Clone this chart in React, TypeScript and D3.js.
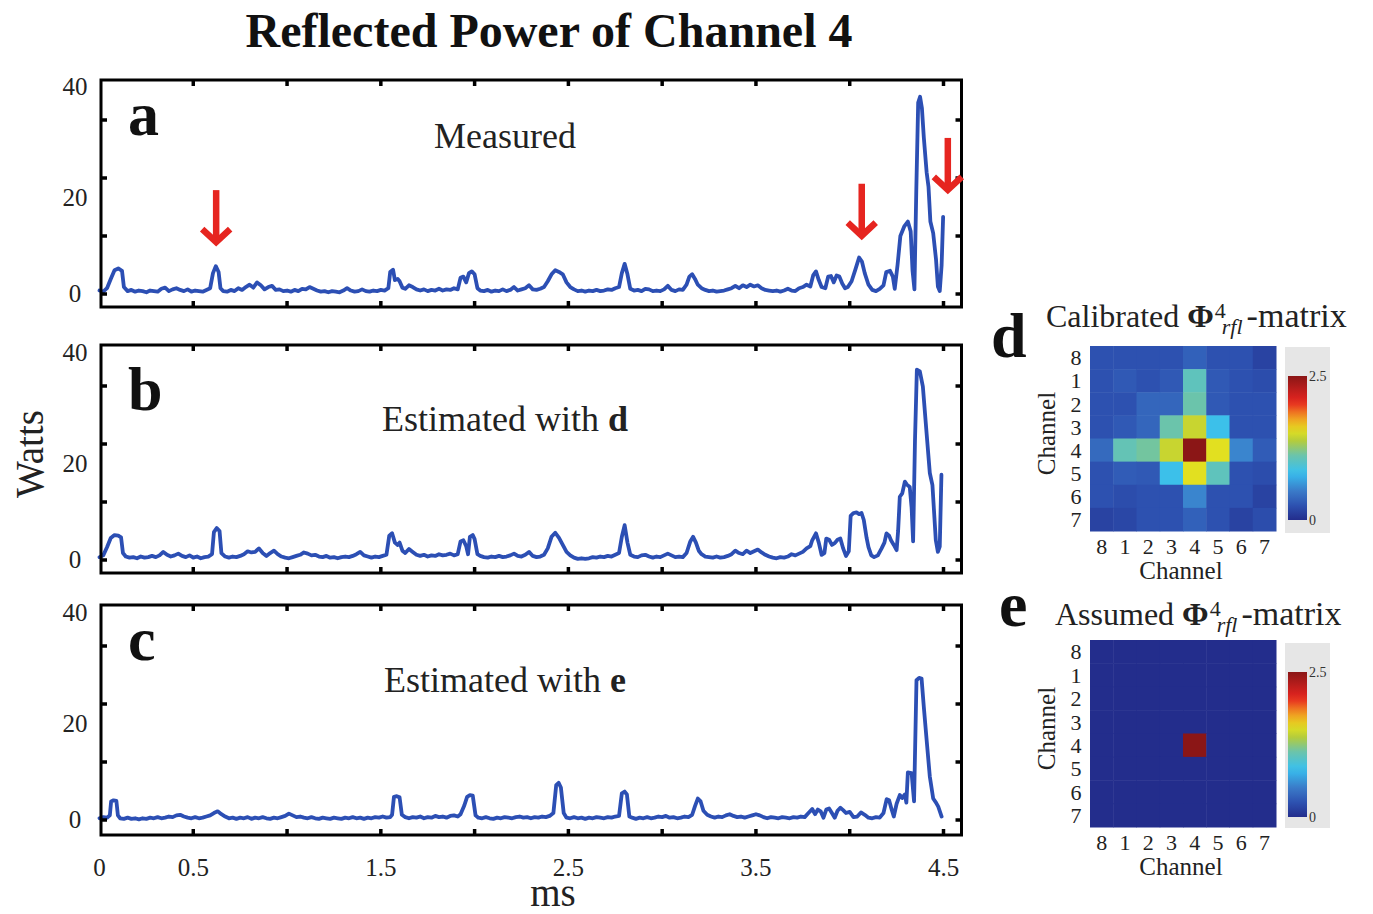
import React from 'react';
import * as d3 from 'd3';

const WIDTH = 1373;
const HEIGHT = 914;
const FONT = "'Liberation Serif', 'Times New Roman', Times, serif";
const LINE_COLOR = '#2c4fb4';
const ARROW_COLOR = '#e62520';

// ---- axes ----
const TIME_TICKS = [0.5, 1, 1.5, 2, 2.5, 3, 3.5, 4, 4.5];
const TIME_LABELS = [0, 0.5, 1.5, 2.5, 3.5, 4.5];
const WATT_TICKS = [0, 10, 20, 30];
const WATT_LABELS = [0, 20, 40];

// ---- reflected power traces, [ms, W] ----
const measured: [number, number][] = [
  [0.00,0.6],[0.02,0.4],[0.04,1.0],[0.06,2.6],[0.08,4.1],[0.10,4.4],[0.12,4.0],[0.13,1.2],[0.15,0.5],[0.17,0.7],
  [0.19,0.4],[0.21,0.6],[0.23,0.5],[0.25,0.3],[0.27,0.6],[0.29,0.5],[0.31,0.4],[0.33,0.9],[0.35,1.1],[0.37,0.5],
  [0.39,0.8],[0.41,1.0],[0.43,0.7],[0.45,0.5],[0.47,0.8],[0.49,0.4],[0.51,0.6],[0.53,0.5],[0.55,0.4],[0.57,0.7],
  [0.59,1.0],[0.605,3.6],[0.62,4.8],[0.635,3.8],[0.645,1.0],[0.66,0.5],[0.68,0.4],[0.70,0.7],[0.72,0.5],[0.74,1.0],
  [0.76,0.7],[0.78,1.2],[0.80,1.6],[0.82,1.1],[0.84,2.0],[0.86,1.5],[0.88,0.8],[0.90,1.2],[0.92,1.4],[0.94,0.7],
  [0.96,0.8],[0.98,0.5],[1.00,0.6],[1.02,0.4],[1.04,0.7],[1.06,0.5],[1.08,0.9],[1.10,0.8],[1.12,1.2],[1.14,0.9],
  [1.16,0.6],[1.18,0.4],[1.20,0.5],[1.22,0.3],[1.24,0.5],[1.26,0.4],[1.28,0.3],[1.30,0.6],[1.32,1.0],[1.34,0.6],
  [1.36,0.4],[1.38,0.5],[1.40,0.8],[1.42,0.5],[1.44,0.4],[1.46,0.6],[1.48,0.5],[1.50,0.7],[1.52,0.6],[1.54,1.0],
  [1.55,3.8],[1.565,4.2],[1.575,2.4],[1.59,2.6],[1.60,2.2],[1.615,1.1],[1.63,0.9],[1.65,1.5],[1.67,1.2],[1.69,0.8],
  [1.71,0.6],[1.73,0.8],[1.75,0.5],[1.77,0.7],[1.79,0.6],[1.81,0.9],[1.83,0.6],[1.85,0.8],[1.87,0.7],[1.89,1.0],
  [1.91,0.8],[1.925,2.8],[1.94,3.0],[1.955,2.0],[1.97,3.6],[1.985,3.9],[2.00,3.4],[2.015,1.0],[2.03,0.6],[2.05,0.5],
  [2.07,0.7],[2.09,0.4],[2.11,0.6],[2.13,0.5],[2.15,0.8],[2.17,0.5],[2.19,0.7],[2.21,1.2],[2.23,0.6],[2.25,0.8],
  [2.27,1.0],[2.29,1.5],[2.31,0.8],[2.33,0.7],[2.35,0.9],[2.37,1.2],[2.39,2.2],[2.41,3.4],[2.43,4.1],[2.45,3.8],
  [2.47,3.4],[2.49,2.0],[2.51,1.2],[2.53,0.8],[2.55,0.5],[2.57,0.6],[2.59,0.4],[2.61,0.6],[2.63,0.5],[2.65,0.7],
  [2.67,0.5],[2.69,0.6],[2.71,0.8],[2.73,0.7],[2.75,1.0],[2.77,1.2],[2.785,3.6],[2.80,5.2],[2.815,3.4],[2.83,0.9],
  [2.85,0.6],[2.87,0.7],[2.89,0.5],[2.91,0.9],[2.93,0.8],[2.95,0.5],[2.97,0.6],[2.99,0.5],[3.01,0.8],[3.03,1.4],
  [3.05,0.7],[3.07,0.5],[3.09,0.8],[3.11,0.7],[3.13,1.6],[3.145,3.0],[3.16,3.4],[3.175,2.6],[3.19,1.6],[3.21,1.0],
  [3.23,0.7],[3.25,0.5],[3.27,0.6],[3.29,0.4],[3.31,0.5],[3.33,0.6],[3.35,0.8],[3.37,1.0],[3.39,1.4],[3.41,1.0],
  [3.43,1.5],[3.45,1.2],[3.47,1.6],[3.49,1.3],[3.51,1.5],[3.53,1.0],[3.55,0.7],[3.57,0.6],[3.59,0.5],[3.61,0.6],
  [3.63,0.4],[3.65,0.6],[3.67,0.9],[3.69,0.6],[3.71,0.5],[3.73,1.0],[3.75,1.2],[3.77,1.6],[3.79,1.3],[3.805,3.2],
  [3.82,3.9],[3.835,2.4],[3.85,1.2],[3.87,1.0],[3.885,3.0],[3.90,3.1],[3.915,2.0],[3.93,3.2],[3.945,3.0],[3.96,1.8],
  [3.975,1.0],[3.99,1.2],[4.01,2.2],[4.03,4.2],[4.05,6.3],[4.065,5.6],[4.08,3.6],[4.10,1.6],[4.12,0.7],[4.14,0.5],
  [4.16,0.9],[4.18,1.5],[4.195,3.8],[4.215,4.0],[4.23,3.0],[4.24,0.9],[4.255,5.0],[4.27,10.0],[4.29,11.6],[4.31,12.5],
  [4.325,10.8],[4.335,4.0],[4.345,0.8],[4.355,18.0],[4.365,33.0],[4.375,34.0],[4.385,32.0],[4.395,27.0],[4.41,21.0],[4.42,18.5],
  [4.43,12.5],[4.445,10.5],[4.46,6.0],[4.47,1.3],[4.48,0.5],[4.49,5.0],[4.498,13.3],
];

const estimatedD: [number, number][] = [
  [0.00,0.5],[0.02,0.8],[0.04,2.2],[0.06,3.8],[0.08,4.3],[0.10,4.2],[0.115,3.9],[0.125,1.2],[0.14,0.6],[0.16,0.4],
  [0.18,0.5],[0.20,0.3],[0.22,0.6],[0.24,0.4],[0.26,0.5],[0.28,0.7],[0.30,0.5],[0.32,0.8],[0.34,1.4],[0.36,0.9],
  [0.38,0.6],[0.40,0.8],[0.42,1.1],[0.44,0.7],[0.46,0.5],[0.48,0.8],[0.50,0.4],[0.52,0.6],[0.54,0.3],[0.56,0.5],
  [0.58,0.6],[0.60,1.0],[0.61,4.8],[0.625,5.5],[0.64,5.0],[0.65,1.2],[0.67,0.6],[0.69,0.4],[0.71,0.6],[0.73,0.5],
  [0.75,0.7],[0.77,1.0],[0.79,1.5],[0.81,1.3],[0.83,1.4],[0.85,2.0],[0.87,1.2],[0.89,0.7],[0.91,1.2],[0.93,1.6],
  [0.95,1.0],[0.97,0.6],[0.99,0.4],[1.01,0.3],[1.03,0.5],[1.05,0.7],[1.07,0.9],[1.09,1.3],[1.11,1.1],[1.13,0.8],
  [1.15,0.9],[1.17,0.6],[1.19,0.5],[1.21,0.7],[1.23,0.4],[1.25,0.5],[1.27,0.3],[1.29,0.5],[1.31,0.6],[1.33,0.5],
  [1.35,0.7],[1.37,1.0],[1.39,1.4],[1.41,0.8],[1.43,0.6],[1.45,0.4],[1.47,0.6],[1.49,0.5],[1.51,0.7],[1.53,0.9],
  [1.545,4.2],[1.56,4.6],[1.575,3.0],[1.59,2.6],[1.60,3.0],[1.615,1.6],[1.63,1.2],[1.65,1.9],[1.67,1.4],[1.69,0.9],
  [1.71,0.7],[1.73,0.9],[1.75,0.6],[1.77,0.8],[1.79,0.7],[1.81,1.0],[1.83,0.8],[1.85,0.9],[1.87,1.1],[1.89,0.8],
  [1.91,1.0],[1.925,3.2],[1.94,3.4],[1.955,2.4],[1.965,1.0],[1.975,4.0],[1.99,4.3],[2.00,3.6],[2.015,1.0],[2.03,0.7],
  [2.05,0.5],[2.07,0.4],[2.09,0.6],[2.11,0.5],[2.13,0.7],[2.15,0.5],[2.17,0.6],[2.19,0.8],[2.21,1.1],[2.23,0.7],
  [2.25,0.6],[2.27,0.9],[2.29,1.4],[2.31,0.7],[2.33,0.5],[2.35,0.6],[2.37,0.9],[2.39,2.0],[2.41,4.0],[2.43,4.7],
  [2.45,3.8],[2.47,2.6],[2.49,1.4],[2.51,0.8],[2.53,0.4],[2.55,0.2],[2.57,0.3],[2.59,0.2],[2.61,0.3],[2.63,0.5],
  [2.65,0.4],[2.67,0.6],[2.69,0.5],[2.71,0.7],[2.73,0.6],[2.75,0.9],[2.77,1.2],[2.785,4.0],[2.80,6.0],[2.815,3.0],
  [2.83,0.9],[2.85,0.6],[2.87,0.5],[2.89,0.8],[2.91,0.9],[2.93,0.6],[2.95,0.4],[2.97,0.6],[2.99,0.5],[3.01,0.8],
  [3.03,1.1],[3.05,0.8],[3.07,0.5],[3.09,0.6],[3.11,0.5],[3.13,1.2],[3.15,3.2],[3.165,4.0],[3.18,3.0],[3.195,1.6],
  [3.21,1.0],[3.23,0.6],[3.25,0.5],[3.27,0.4],[3.29,0.6],[3.31,0.4],[3.33,0.5],[3.35,0.7],[3.37,1.0],[3.39,1.6],
  [3.41,1.2],[3.43,1.0],[3.45,1.6],[3.47,1.2],[3.49,1.5],[3.51,1.8],[3.53,1.3],[3.55,0.9],[3.57,0.6],[3.59,0.4],
  [3.61,0.3],[3.63,0.5],[3.65,0.4],[3.67,0.6],[3.69,1.0],[3.71,0.8],[3.73,1.1],[3.75,1.4],[3.77,2.0],[3.79,2.4],
  [3.80,3.4],[3.82,4.6],[3.835,3.0],[3.85,0.9],[3.865,1.2],[3.875,3.7],[3.89,3.5],[3.905,2.6],[3.92,2.9],[3.935,3.5],
  [3.95,3.7],[3.965,2.0],[3.98,0.7],[3.995,1.5],[4.005,7.6],[4.02,8.1],[4.036,8.2],[4.05,7.9],[4.063,8.1],[4.075,6.9],
  [4.09,3.8],[4.10,2.2],[4.115,0.8],[4.13,0.5],[4.15,0.8],[4.17,2.0],[4.185,3.0],[4.196,4.6],[4.21,4.2],[4.22,3.4],
  [4.235,2.6],[4.25,1.7],[4.258,5.0],[4.267,10.9],[4.28,11.5],[4.294,13.5],[4.305,13.0],[4.32,12.6],[4.33,9.0],[4.338,3.2],
  [4.348,20.7],[4.358,32.8],[4.374,32.5],[4.39,29.9],[4.41,21.8],[4.427,15.0],[4.441,12.9],[4.459,3.4],[4.47,1.4],[4.48,2.3],
  [4.489,14.7],
];

const estimatedE: [number, number][] = [
  [0.00,0.3],[0.02,0.5],[0.04,0.4],[0.055,0.8],[0.062,3.2],[0.075,3.4],[0.09,3.3],[0.098,0.8],[0.11,0.3],[0.13,0.2],
  [0.15,0.4],[0.17,0.2],[0.19,0.3],[0.21,0.1],[0.23,0.3],[0.25,0.2],[0.27,0.4],[0.29,0.3],[0.31,0.5],[0.33,0.3],
  [0.35,0.4],[0.37,0.6],[0.39,0.5],[0.41,0.8],[0.43,0.9],[0.45,0.6],[0.47,0.4],[0.49,0.3],[0.51,0.5],[0.53,0.3],
  [0.55,0.4],[0.57,0.6],[0.59,0.8],[0.61,1.2],[0.63,1.5],[0.65,1.0],[0.67,0.6],[0.69,0.3],[0.71,0.4],[0.73,0.2],
  [0.75,0.4],[0.77,0.3],[0.79,0.5],[0.81,0.2],[0.83,0.4],[0.85,0.3],[0.87,0.5],[0.89,0.3],[0.91,0.2],[0.93,0.4],
  [0.95,0.3],[0.97,0.5],[0.99,0.7],[1.01,1.1],[1.03,0.8],[1.05,0.5],[1.07,0.6],[1.09,0.4],[1.11,0.3],[1.13,0.5],
  [1.15,0.3],[1.17,0.2],[1.19,0.4],[1.21,0.3],[1.23,0.2],[1.25,0.4],[1.27,0.3],[1.29,0.2],[1.31,0.4],[1.33,0.3],
  [1.35,0.5],[1.37,0.3],[1.39,0.4],[1.41,0.2],[1.43,0.4],[1.45,0.3],[1.47,0.5],[1.49,0.4],[1.51,0.6],[1.53,0.4],
  [1.55,0.5],[1.56,0.9],[1.57,4.0],[1.585,4.1],[1.60,3.9],[1.612,0.9],[1.63,0.5],[1.65,0.3],[1.67,0.5],[1.69,0.4],
  [1.71,0.6],[1.73,0.3],[1.75,0.5],[1.77,0.4],[1.79,0.7],[1.81,0.5],[1.83,0.6],[1.85,0.4],[1.87,0.7],[1.89,0.8],
  [1.91,0.6],[1.925,1.0],[1.945,2.5],[1.96,4.0],[1.975,4.3],[1.99,4.2],[2.005,0.8],[2.02,0.4],[2.04,0.3],[2.06,0.5],
  [2.08,0.3],[2.10,0.2],[2.12,0.4],[2.14,0.3],[2.16,0.5],[2.18,0.4],[2.20,0.3],[2.22,0.5],[2.24,0.6],[2.26,0.4],
  [2.28,0.5],[2.30,0.3],[2.32,0.5],[2.34,0.4],[2.36,0.6],[2.38,0.5],[2.40,0.7],[2.42,1.2],[2.435,6.0],[2.448,6.4],
  [2.46,5.6],[2.475,1.2],[2.49,0.4],[2.51,0.3],[2.53,0.5],[2.55,0.3],[2.57,0.4],[2.59,0.2],[2.61,0.4],[2.63,0.3],
  [2.65,0.5],[2.67,0.4],[2.69,0.3],[2.71,0.5],[2.73,0.4],[2.75,0.6],[2.77,0.7],[2.785,4.6],[2.80,4.9],[2.812,4.4],
  [2.825,0.6],[2.84,0.4],[2.86,0.2],[2.88,0.4],[2.90,0.3],[2.92,0.5],[2.94,0.3],[2.96,0.4],[2.98,0.6],[3.00,0.5],
  [3.02,0.7],[3.04,0.4],[3.06,0.5],[3.08,0.3],[3.10,0.4],[3.12,0.6],[3.14,0.5],[3.16,0.9],[3.175,2.4],[3.19,3.7],
  [3.205,3.2],[3.22,1.6],[3.24,0.9],[3.26,0.6],[3.28,0.4],[3.30,0.6],[3.32,0.5],[3.34,0.8],[3.36,1.0],[3.38,0.7],
  [3.40,0.5],[3.42,0.6],[3.44,0.4],[3.46,0.6],[3.48,0.8],[3.50,1.0],[3.52,0.8],[3.54,0.5],[3.56,0.3],[3.58,0.5],
  [3.60,0.4],[3.62,0.3],[3.64,0.5],[3.66,0.4],[3.68,0.3],[3.70,0.5],[3.72,0.4],[3.74,0.6],[3.76,0.5],[3.78,1.2],
  [3.80,1.9],[3.815,1.0],[3.83,1.8],[3.845,1.5],[3.86,0.4],[3.875,1.8],[3.89,2.0],[3.905,1.2],[3.92,0.4],[3.935,1.6],
  [3.95,2.1],[3.965,1.7],[3.98,1.2],[4.00,1.4],[4.02,0.5],[4.04,0.6],[4.06,1.3],[4.08,0.9],[4.10,0.4],[4.12,0.3],
  [4.14,0.5],[4.16,0.4],[4.18,1.2],[4.197,3.6],[4.21,3.4],[4.222,2.0],[4.235,0.6],[4.25,2.8],[4.267,4.3],[4.28,3.8],
  [4.294,4.4],[4.302,3.0],[4.31,8.2],[4.33,8.1],[4.343,3.2],[4.356,24.1],[4.37,24.5],[4.383,24.4],[4.395,19.5],[4.41,13.8],
  [4.427,7.5],[4.445,3.7],[4.46,3.0],[4.472,2.3],[4.49,0.6],
];

// red arrows in the measured trace: [ms, W at arrow tip]
const measuredArrows: [number, number][] = [
  [0.622, 8.6],
  [4.064, 9.7],
  [4.523, 17.6],
];

// ---- reflection matrices (rows and columns in channel order below) ----
const CHANNELS = ['8', '1', '2', '3', '4', '5', '6', '7'];
const COLOR_MAX = 2.5;
const calibratedMatrix = [
  [0.25, 0.25, 0.25, 0.25, 0.35, 0.25, 0.25, 0.15],
  [0.25, 0.30, 0.25, 0.30, 1.05, 0.30, 0.25, 0.22],
  [0.25, 0.25, 0.38, 0.38, 1.12, 0.30, 0.25, 0.25],
  [0.25, 0.30, 0.38, 1.12, 1.45, 0.85, 0.25, 0.25],
  [0.40, 1.08, 1.15, 1.45, 2.50, 1.55, 0.55, 0.32],
  [0.25, 0.32, 0.30, 0.85, 1.55, 1.05, 0.25, 0.22],
  [0.25, 0.22, 0.25, 0.25, 0.55, 0.25, 0.25, 0.15],
  [0.15, 0.18, 0.25, 0.25, 0.35, 0.25, 0.15, 0.22],
];
const assumedMatrix = [
  [0, 0, 0, 0, 0, 0, 0, 0],
  [0, 0, 0, 0, 0, 0, 0, 0],
  [0, 0, 0, 0, 0, 0, 0, 0],
  [0, 0, 0, 0, 0, 0, 0, 0],
  [0, 0, 0, 0, 2.5, 0, 0, 0],
  [0, 0, 0, 0, 0, 0, 0, 0],
  [0, 0, 0, 0, 0, 0, 0, 0],
  [0, 0, 0, 0, 0, 0, 0, 0],
];

// jet-like colour map (slightly muted)
const COLOR_STOPS = [0, 0.1, 0.2, 0.33, 0.45, 0.55, 0.62, 0.72, 0.82, 1];
const COLOR_RANGE = ['#232d8c', '#2d51b0', '#3a7ac8', '#38c0f0', '#6cc4aa', '#b4cc3c', '#e2e020', '#f29422', '#e62420', '#8b1616'];
const colorScale = d3
  .scaleLinear<string>()
  .domain(COLOR_STOPS.map((f) => f * COLOR_MAX))
  .range(COLOR_RANGE)
  .interpolate(d3.interpolateRgb)
  .clamp(true);

// ---- layout ----
const X_LEFT = 101;
const X_RIGHT = 961.5;
const xScale = d3.scaleLinear().domain([0, 4.5]).range([99.5, 943.5]);

type Panel = {
  letter: string;
  text: string;
  bold: string;
  series: [number, number][];
  top: number;
  bottom: number;
  zero: number;
  textY: number;
  letterY: number;
  arrows: [number, number][];
};

const panels: Panel[] = [
  { letter: 'a', text: 'Measured', bold: '', series: measured, top: 80, bottom: 307, zero: 294, textY: 148, letterY: 135, arrows: measuredArrows },
  { letter: 'b', text: 'Estimated with ', bold: 'd', series: estimatedD, top: 345, bottom: 573, zero: 560, textY: 431, letterY: 410, arrows: [] },
  { letter: 'c', text: 'Estimated with ', bold: 'e', series: estimatedE, top: 605, bottom: 835, zero: 820, textY: 692, letterY: 660, arrows: [] },
];

function TracePanel({ p }: { p: Panel }) {
  const y = d3.scaleLinear().domain([0, 10]).range([p.zero, p.zero - 58]);
  const labelY = d3.scaleLinear().domain([0, 20, 40]).range([p.zero - 1, p.zero - 97, p.zero - 208]);
  const line = d3
    .line<[number, number]>()
    .x((d) => xScale(d[0]))
    .y((d) => y(d[1]));
  const tickLen = 6;
  return (
    <g>
      <path d={line(p.series) || ''} fill="none" stroke={LINE_COLOR} strokeWidth={3.8} strokeLinejoin="round" strokeLinecap="round" />
      <rect x={X_LEFT} y={p.top} width={X_RIGHT - X_LEFT} height={p.bottom - p.top} fill="none" stroke="#000" strokeWidth={3} />
      {TIME_TICKS.map((t) => (
        <g key={'t' + t} stroke="#000" strokeWidth={3.5}>
          <line x1={xScale(t)} x2={xScale(t)} y1={p.top} y2={p.top + tickLen} />
          <line x1={xScale(t)} x2={xScale(t)} y1={p.bottom} y2={p.bottom - tickLen} />
        </g>
      ))}
      {WATT_TICKS.map((w) => (
        <g key={'w' + w} stroke="#000" strokeWidth={3.5}>
          <line x1={X_LEFT} x2={X_LEFT + tickLen} y1={y(w)} y2={y(w)} />
          <line x1={X_RIGHT} x2={X_RIGHT - tickLen} y1={y(w)} y2={y(w)} />
        </g>
      ))}
      {WATT_LABELS.map((w) => (
        <text key={'l' + w} x={75} y={labelY(w)} dy="0.35em" textAnchor="middle" fontSize={25} fill="#222">
          {w}
        </text>
      ))}
      <text x={128} y={p.letterY} fontSize={62} fontWeight="bold" fill="#111">
        {p.letter}
      </text>
      <text x={505} y={p.textY} textAnchor="middle" fontSize={36} fill="#222">
        {p.text}
        {p.bold && <tspan fontWeight="bold">{p.bold}</tspan>}
      </text>
      {p.arrows.map(([t, w], i) => {
        const ax = xScale(t);
        const ay = y(w);
        return (
          <g key={'a' + i} stroke={ARROW_COLOR} strokeWidth={6.5} fill="none">
            <line x1={ax} x2={ax} y1={ay - 54} y2={ay - 5} />
            <polyline points={`${ax - 14},${ay - 15} ${ax},${ay - 2} ${ax + 14},${ay - 15}`} strokeLinejoin="miter" />
          </g>
        );
      })}
    </g>
  );
}

type MatrixPanel = {
  letter: string;
  title: string;
  matrix: number[][];
  top: number;
  height: number;
  titleY: number;
  letterX: number;
  letterY: number;
  titleX: number;
  barTop: number;
  barBottom: number;
  bgTop: number;
  bgBottom: number;
};

const matrixPanels: MatrixPanel[] = [
  { letter: 'd', title: 'Calibrated ', matrix: calibratedMatrix, top: 346, height: 185, titleY: 327, letterX: 991, letterY: 357, titleX: 1046, barTop: 376, barBottom: 520, bgTop: 347, bgBottom: 533 },
  { letter: 'e', title: 'Assumed ', matrix: assumedMatrix, top: 640, height: 187, titleY: 625, letterX: 999, letterY: 626, titleX: 1055, barTop: 672, barBottom: 817, bgTop: 643, bgBottom: 828 },
];

const HM_LEFT = 1090;
const HM_RIGHT = 1276;

function Heatmap({ m }: { m: MatrixPanel }) {
  const xb = d3.scaleBand().domain(CHANNELS).range([HM_LEFT, HM_RIGHT]);
  const yb = d3.scaleBand().domain(CHANNELS).range([m.top, m.top + m.height]);
  const barScale = d3.scaleLinear().domain([0, COLOR_MAX]).range([m.barBottom, m.barTop]);
  const gradId = 'cbar-' + m.letter;
  const gradStops = d3.range(0, 1.0001, 0.05);
  return (
    <g>
      <defs>
        <linearGradient id={gradId} x1="0" y1="1" x2="0" y2="0">
          {gradStops.map((f) => (
            <stop key={f} offset={f} stopColor={colorScale(f * COLOR_MAX)} />
          ))}
        </linearGradient>
      </defs>
      <text x={m.letterX} y={m.letterY} fontSize={64} fontWeight="bold" fill="#111">
        {m.letter}
      </text>
      <text x={m.titleX} y={m.titleY} fontSize={32} fill="#222">
        {m.title}
        <tspan fontWeight="bold">Φ</tspan>
        <tspan fontSize={22} dx={1} dy={-9}>4</tspan>
        <tspan fontSize={22} fontStyle="italic" dx={-4} dy={16}>rfl</tspan>
        <tspan fontSize={34} dx={4} dy={-7}>-matrix</tspan>
      </text>
      {m.matrix.map((row, ri) =>
        row.map((v, ci) => (
          <rect
            key={ri + '-' + ci}
            x={xb(CHANNELS[ci])}
            y={yb(CHANNELS[ri])}
            width={xb.bandwidth() + 0.5}
            height={yb.bandwidth() + 0.5}
            fill={colorScale(v)}
          />
        ))
      )}
      {CHANNELS.map((c) => (
        <text key={'y' + c} x={1076} y={(yb(c) || 0) + yb.bandwidth() / 2} dy="0.35em" textAnchor="middle" fontSize={22} fill="#222">
          {c}
        </text>
      ))}
      {CHANNELS.map((c) => (
        <text key={'x' + c} x={(xb(c) || 0) + xb.bandwidth() / 2} y={m.top + m.height + 23} textAnchor="middle" fontSize={22} fill="#222">
          {c}
        </text>
      ))}
      <text x={(HM_LEFT + HM_RIGHT) / 2 - 2} y={m.top + m.height + 48} textAnchor="middle" fontSize={25} fill="#222">
        Channel
      </text>
      <text transform={`translate(1055, ${m.top + m.height / 2 - 5}) rotate(-90)`} textAnchor="middle" fontSize={25} fill="#222">
        Channel
      </text>
      <rect x={1285} y={m.bgTop} width={45} height={m.bgBottom - m.bgTop} fill="#e6e6e6" />
      <rect x={1288} y={m.barTop} width={19} height={m.barBottom - m.barTop} fill={`url(#${gradId})`} />
      {[COLOR_MAX, 0].map((v) => (
        <text key={'c' + v} x={1309} y={barScale(v)} dy="0.35em" fontSize={14} fill="#333">
          {v}
        </text>
      ))}
    </g>
  );
}

export default function App() {
  return (
    <svg
      width={WIDTH}
      height={HEIGHT}
      viewBox={`0 0 ${WIDTH} ${HEIGHT}`}
      style={{ position: 'absolute', left: 0, top: 0, background: '#fff' }}
      fontFamily={FONT}
    >
      <rect x={0} y={0} width={WIDTH} height={HEIGHT} fill="#fff" />
      <text x={549} y={47} textAnchor="middle" fontSize={48} fontWeight="bold" fill="#111">
        Reflected Power of Channel 4
      </text>
      {panels.map((p) => (
        <TracePanel key={p.letter} p={p} />
      ))}
      {TIME_LABELS.map((t) => (
        <text key={'x' + t} x={xScale(t)} y={867} dy="0.35em" textAnchor="middle" fontSize={25} fill="#222">
          {t}
        </text>
      ))}
      <text x={553} y={906} textAnchor="middle" fontSize={39} fill="#222">
        ms
      </text>
      <text transform="translate(43, 454) rotate(-90)" textAnchor="middle" fontSize={39} fill="#222">
        Watts
      </text>
      {matrixPanels.map((m) => (
        <Heatmap key={m.letter} m={m} />
      ))}
    </svg>
  );
}
